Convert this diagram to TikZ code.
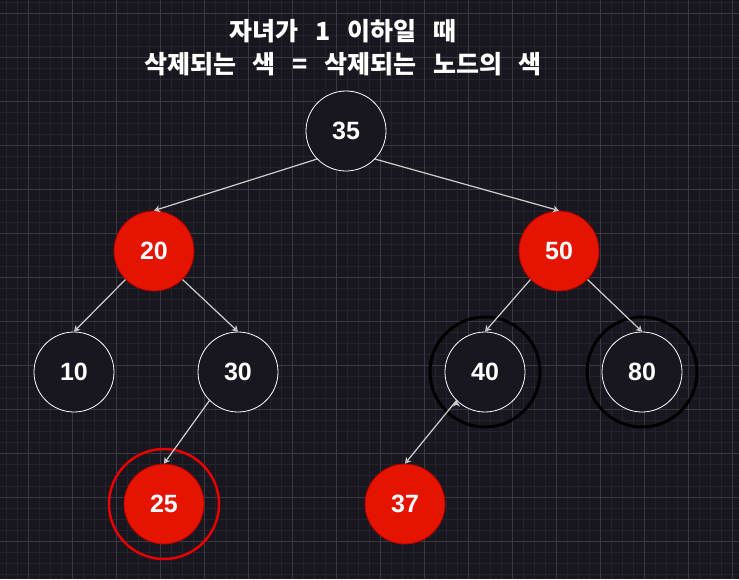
\documentclass[tikz,border=0pt]{standalone}
\usepackage{fontspec}
\setmainfont{Liberation Sans}
\newfontfamily\krfont[WordSpace=2.9]{Noto Sans CJK KR}
\usetikzlibrary{arrows.meta,positioning}
\definecolor{bgcol}{HTML}{18161F}
\definecolor{minorcol}{HTML}{24222A}
\definecolor{majorcol}{HTML}{3A3840}
\definecolor{redfill}{HTML}{E51400}
\definecolor{reddraw}{HTML}{B20000}
\definecolor{ringred}{HTML}{E80000}
\definecolor{edgecol}{HTML}{CFCFCF}

\begin{document}
\begin{tikzpicture}[x=1pt,y=-1pt,->,>={Stealth[length=6pt,width=7pt]},on grid,
      black node/.style={circle,draw=white,line width=0.8pt,fill=bgcol,minimum size=80pt,inner sep=0pt,text=white,font=\fontsize{25}{25}\selectfont\bfseries},
      red node/.style={black node,draw=reddraw,fill=redfill},
      black ring/.style={circle,draw=black,line width=3pt,minimum size=110pt,inner sep=0pt},
      red ring/.style={black ring,draw=ringred,line width=2.5pt},
      tree edge/.style={draw=edgecol,line width=1.2pt}]
      % background and grid
      \fill[bgcol] (0,0) rectangle (739,579);
      \useasboundingbox (0,0) rectangle (739,579);
      \foreach \gx in {6,17,...,739} \draw[-,minorcol,line width=0.8pt] (\gx,0) -- (\gx,579);
      \foreach \gy in {2,13,...,579} \draw[-,minorcol,line width=0.8pt] (0,\gy) -- (739,\gy);
      \foreach \gx in {28,72,...,739} \draw[-,majorcol,line width=1pt] (\gx,0) -- (\gx,579);
      \foreach \gy in {13,57,...,579} \draw[-,majorcol,line width=1pt] (0,\gy) -- (739,\gy);

      \node[text=white,align=center,font=\krfont\bfseries\fontsize{25}{33}\selectfont] (title) at (343,48) {자녀가 1 이하일 때\\삭제되는 색 = 삭제되는 노드의 색};

      \node[black node] (n35) at (346,131) {35};
      \node[red node] (n20) [below left=120pt and 192pt of n35] {20};
      \node[red node] (n50) [below right=120pt and 213pt of n35] {50};
      \node[black node] (n10) [below left=121pt and 80pt of n20] {10};
      \node[black node] (n30) [below right=121pt and 84pt of n20] {30};
      \node[black node] (n40) [below left=121pt and 74pt of n50] {40};
      \node[black node] (n80) [below right=121pt and 83pt of n50] {80};
      \node[red node] (n25) [below left=132pt and 74pt of n30] {25};
      \node[red node] (n37) [below left=132pt and 80pt of n40] {37};

      \node[red ring] (ring25) at (n25) {};
      \node[black ring] (ring40) at (n40) {};
      \node[black ring] (ring80) at (n80) {};

      \path[tree edge]
        (n35.-136) edge (n20.north)
        (n35.-44) edge (n50.north)
        (n20.-135) edge (n10.north)
        (n20.-45) edge (n30.north)
        (n50.-135) edge (n40.north)
        (n50.-45) edge (n80.north)
        (n30.-135) edge (n25.north)
        (n40.-135) edge (n37.north);
    \end{tikzpicture}
\end{document}
